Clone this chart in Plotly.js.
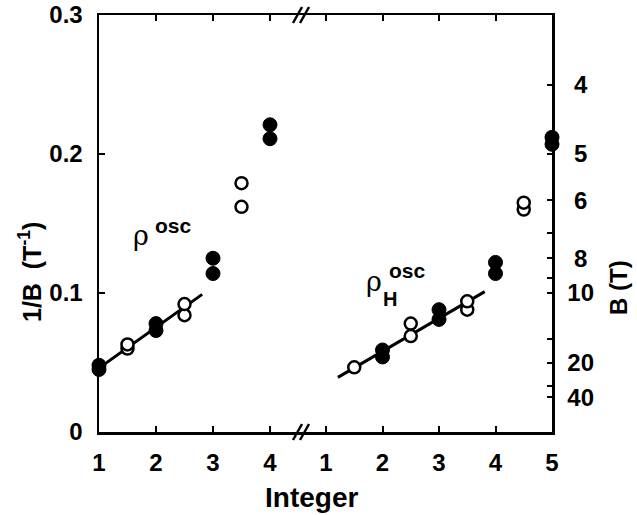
<!DOCTYPE html>
<html><head><meta charset="utf-8">
<script src="https://cdn.plot.ly/plotly-3.0.1.min.js"></script>
<style>html,body{margin:0;padding:0;background:#fff}#chart{width:637px;height:515px}</style>
</head><body><div id="chart"></div>
<script>
// ---- data ----
const leftFilledX = [1, 1, 2, 2, 3, 3, 4, 4];
const leftFilledY = [0.045, 0.048, 0.073, 0.078, 0.114, 0.125, 0.211, 0.221];
const leftOpenX = [1.5, 1.5, 2.5, 2.5, 3.5, 3.5];
const leftOpenY = [0.060, 0.063, 0.084, 0.092, 0.162, 0.179];
const leftFitX = [1, 2.81];
const leftFitY = [0.046, 0.099];

const rightFilledX = [2, 2, 3, 3, 4, 4, 5, 5];
const rightFilledY = [0.054, 0.059, 0.081, 0.088, 0.114, 0.122, 0.207, 0.212];
const rightOpenX = [1.5, 2.5, 2.5, 3.5, 3.5, 4.5, 4.5];
const rightOpenY = [0.0465, 0.069, 0.078, 0.088, 0.094, 0.160, 0.165];
const rightFitX = [1.21, 3.81];
const rightFitY = [0.0393, 0.101];

const leftXTicks = [1, 2, 3, 4];
const rightXTicks = [1, 2, 3, 4, 5];
const invBTicks = [0, 0.1, 0.2, 0.3];
const invBLabels = ['0', '0.1', '0.2', '0.3'];
const bTicks = [4, 5, 6, 8, 10, 20, 40];
const bLabels = ['\u20084', '\u20085', '\u20086', '\u20088', '10', '20', '40'];
const bMinorTicks = [7, 9, 15, 30];

// ---- layout helpers ----
const W = 637, H = 515, L = 99, R = 85, T = 15, B = 83;
const PW = W - L - R, PH = H - T - B;
const px = x => (x - L) / PW;
const py = y => (H - B - y) / PH;
const SPLIT = px(301);
const FONT = 'Liberation Sans, Arial, Helvetica, sans-serif';
const tickFont = {family: FONT, size: 24, color: '#000', weight: 'bold'};

const filled = {color: '#000', size: 14, line: {color: '#000', width: 1}};
const open = {color: '#fff', size: 12, line: {color: '#000', width: 2.5}};

const traces = [
  {x: leftFitX, y: leftFitY, xaxis: 'x', yaxis: 'y', mode: 'lines', line: {color: '#000', width: 3}, cliponaxis: false},
  {x: rightFitX, y: rightFitY, xaxis: 'x2', yaxis: 'y2', mode: 'lines', line: {color: '#000', width: 3}, cliponaxis: false},
  {x: leftFilledX, y: leftFilledY, xaxis: 'x', yaxis: 'y', mode: 'markers', marker: filled, cliponaxis: false},
  {x: leftOpenX, y: leftOpenY, xaxis: 'x', yaxis: 'y', mode: 'markers', marker: open, cliponaxis: false},
  {x: rightFilledX, y: rightFilledY, xaxis: 'x2', yaxis: 'y2', mode: 'markers', marker: filled, cliponaxis: false},
  {x: rightOpenX, y: rightOpenY, xaxis: 'x2', yaxis: 'y2', mode: 'markers', marker: open, cliponaxis: false}
];

const axisCommon = {
  showline: true, linecolor: '#000', linewidth: 2.5,
  ticks: 'inside', ticklen: 6, tickwidth: 2, tickcolor: '#000',
  showgrid: false, zeroline: false, tickfont: tickFont, fixedrange: true
};

const slash = (x0, y0, x1, y1) => ({
  type: 'line', xref: 'paper', yref: 'paper',
  x0: px(x0), y0: py(y0), x1: px(x1), y1: py(y1),
  line: {color: '#000', width: 2.5}
});

const layout = {
  width: W, height: H,
  margin: {l: L, r: R, t: T, b: B, pad: 0},
  paper_bgcolor: '#fff', plot_bgcolor: 'rgba(0,0,0,0)',
  showlegend: false,
  xaxis: Object.assign({}, axisCommon, {
    domain: [0, SPLIT], range: [1, 1 + 202 / 57], anchor: 'y',
    tickmode: 'array', tickvals: leftXTicks, mirror: 'ticks', ticklabelstandoff: 8
  }),
  xaxis2: Object.assign({}, axisCommon, {
    domain: [SPLIT, 1], range: [5 - 251 / 56.5, 5], anchor: 'y2',
    tickmode: 'array', tickvals: rightXTicks, mirror: 'ticks', ticklabelstandoff: 8
  }),
  yaxis: Object.assign({}, axisCommon, {
    domain: [0, 1], range: [0, 0.3], anchor: 'x', side: 'left',
    tickmode: 'array', tickvals: invBTicks, ticktext: invBLabels, ticklabelstandoff: 9
  }),
  yaxis2: Object.assign({}, axisCommon, {
    domain: [0, 1], range: [0, 0.3], anchor: 'x2', side: 'right',
    tickmode: 'array', tickvals: bTicks.map(b => 1 / b), ticktext: bLabels,
    ticklen: 5, ticklabelstandoff: 8,
    minor: {tickmode: 'array', tickvals: bMinorTicks.map(b => 1 / b),
            ticks: 'inside', ticklen: 5, tickwidth: 2, tickcolor: '#000', showgrid: false}
  }),
  shapes: [
    slash(293, 23, 302, 7), slash(300, 23, 309, 7),
    slash(293, 440, 302, 424), slash(300, 440, 309, 424)
  ],
  annotations: [
    {xref: 'paper', yref: 'paper', x: px(30), y: py(272), xanchor: 'center', yanchor: 'middle',
     textangle: -90, showarrow: false, text: '1/B\u00a0\u00a0(T<sup>-1</sup>)',
     font: {family: FONT, size: 25, color: '#000', weight: 'bold'}},
    {xref: 'paper', yref: 'paper', x: px(619), y: py(288), xanchor: 'center', yanchor: 'middle',
     textangle: -90, showarrow: false, text: 'B\u00a0(T)',
     font: {family: FONT, size: 24, color: '#000', weight: 'bold'}},
    {xref: 'paper', yref: 'paper', x: px(311), y: py(498), xanchor: 'center', yanchor: 'middle',
     showarrow: false, text: 'Integer',
     font: {family: FONT, size: 28, color: '#000', weight: 'bold'}},
    {xref: 'paper', yref: 'paper', x: px(141), y: py(235), xanchor: 'center', yanchor: 'middle',
     showarrow: false, text: '\u03c1',
     font: {family: 'DejaVu Serif, Liberation Serif, serif', size: 27, color: '#000'}},
    {xref: 'paper', yref: 'paper', x: px(153), y: py(226), xanchor: 'left', yanchor: 'middle',
     showarrow: false, text: 'osc',
     font: {family: FONT, size: 21, color: '#000', weight: 'bold'}},
    {xref: 'paper', yref: 'paper', x: px(374), y: py(281), xanchor: 'center', yanchor: 'middle',
     showarrow: false, text: '\u03c1',
     font: {family: 'DejaVu Serif, Liberation Serif, serif', size: 27, color: '#000'}},
    {xref: 'paper', yref: 'paper', x: px(381), y: py(299), xanchor: 'left', yanchor: 'middle',
     showarrow: false, text: 'H',
     font: {family: FONT, size: 20, color: '#000', weight: 'bold'}},
    {xref: 'paper', yref: 'paper', x: px(387), y: py(270), xanchor: 'left', yanchor: 'middle',
     showarrow: false, text: 'osc',
     font: {family: FONT, size: 21, color: '#000', weight: 'bold'}}
  ]
};

Plotly.newPlot('chart', traces, layout, {staticPlot: true, displayModeBar: false});
</script>
</body></html>
